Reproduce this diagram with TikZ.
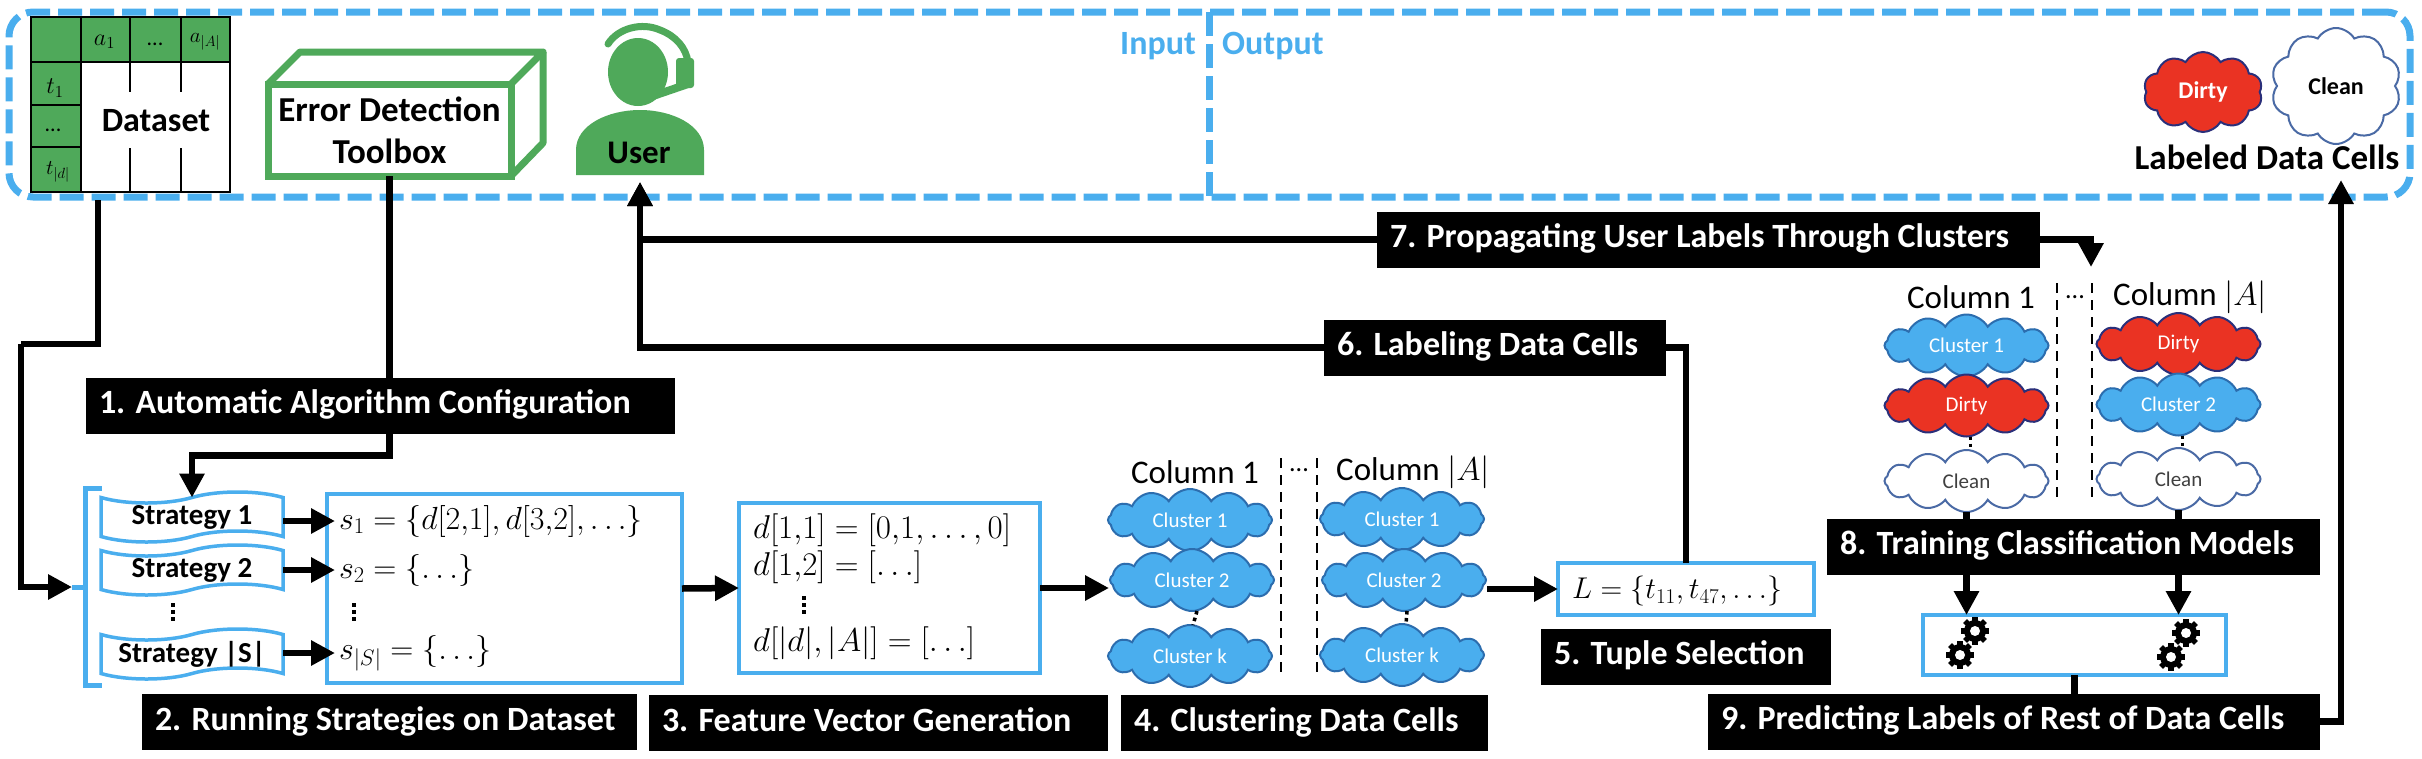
\documentclass[tikz,border=0pt]{standalone}
\usepackage{fix-cm}
\usepackage[no-math]{fontspec}
\setmainfont{Carlito}
\usetikzlibrary{arrows.meta,shapes.symbols}
\definecolor{ioblue}{HTML}{4AAEEE}
\definecolor{tblgreen}{HTML}{4FA95A}
\definecolor{dirtyred}{HTML}{EA3323}
\definecolor{puffblue}{HTML}{2C6DAE}
\definecolor{puffnavy}{HTML}{2A2F7A}
\definecolor{puffgrey}{HTML}{4A6AA5}
\newcommand{\fsz}[1]{\fontsize{#1}{#1}\selectfont}
\tikzset{
   lbl/.style={fill=black, text=white, font=\fsz{34}\bfseries, inner ysep=0pt, inner xsep=13pt, outer sep=0pt,
      text width=#1pt-26pt, align=flush left, minimum height=56pt, text height=23pt, text depth=7pt},
   flow/.style={line width=6.5pt, draw=black},
   tip/.style={-{Triangle[length=24pt,width=24pt]}},
   bluebox/.style={draw=ioblue, line width=4pt, fill=white, outer sep=0pt, inner sep=0pt},
   strategy/.style={tape, tape bend top=in and out, tape bend bottom=in and out, tape bend height=11pt, draw=ioblue,
      line width=3.5pt, fill=white, outer sep=0pt, inner sep=0pt, minimum width=182pt, minimum height=50pt, font=\fsz{29}\bfseries},
   mtext/.style={anchor=west, inner sep=0pt, font=\fsz{32}},
   puff/.style={cloud, cloud puffs=12, cloud puff arc=120, cloud ignores aspect, inner sep=0pt, outer sep=0pt, line width=2pt,
      minimum width=164pt, minimum height=62pt, font=\fsz{21}},
   bluepuff/.style={puff, draw=puffblue, fill=ioblue, text=white},
   redpuff/.style={puff, draw=puffnavy, fill=dirtyred, text=white},
   whitepuff/.style={puff, draw=puffgrey, fill=white, text=black!75},
   coltext/.style={font=\fsz{33}, text=black, inner sep=0pt},
   sepdash/.style={line width=2pt, dash pattern=on 10pt off 7pt},
   dotline/.style={line width=3.5pt, dash pattern=on 3.5pt off 3.5pt},
   gearicon/.pic={
      \foreach \a in {0,45,...,135} {
         \fill[black, rotate=\a] (-2.7pt,-14pt) rectangle (2.7pt,14pt);
      }
      \fill[black] (0,0) circle(11pt);
      \fill[white] (0,0) circle(5pt);
   }
}
\begin{document}
\begin{tikzpicture}[x=1pt, y=-1pt]
   \useasboundingbox (0,0) rectangle (2422,758);
   \fill[white] (0,0) rectangle (2422,758);
   \node[draw=ioblue, line width=7pt, dash pattern=on 24pt off 8pt, rounded corners=24pt, outer sep=0pt, minimum width=2401pt, minimum height=185pt] (iobox) at (1209.5,104.5) {};
   \draw[draw=ioblue, line width=7pt, dash pattern=on 24pt off 8pt] (iobox.north) -- (iobox.south);
   \node[anchor=east, inner sep=0pt, text=ioblue, font=\fsz{34}\bfseries] (inlbl) at (1196,46) {Input};
   \node[anchor=west, inner sep=0pt, text=ioblue, font=\fsz{34}\bfseries] (outlbl) at (1222,46) {Output};
   \fill[tblgreen] (31,17) rectangle (230,62);
   \fill[tblgreen] (31,62) rectangle (81,192);
   \draw[line width=1.5pt] (31,17) rectangle (230,192);
   \draw[line width=1.5pt] (31,62) -- (230,62);
   \foreach \y in {105,147} {
      \draw[line width=1.5pt] (31,\y) -- (81,\y);
   }
   \draw[line width=1.5pt] (81,17) -- (81,192);
   \foreach \x in {130,181} {
      \draw[line width=1.5pt] (\x,17) -- (\x,92);
      \draw[line width=1.5pt] (\x,148) -- (\x,192);
   }
   \node[font=\fsz{24}, inner sep=0pt] (a1) at (104.5,42) {$a_1$};
   \node[font=\fsz{22}, inner sep=0pt] (a2) at (155,44) {...};
   \node[font=\fsz{21}, inner sep=0pt] (a3) at (205,42) {$a_{|A|}$};
   \node[font=\fsz{24}, inner sep=0pt] (t1) at (55,88) {$t_1$};
   \node[font=\fsz{22}, inner sep=0pt] (t2) at (53,130) {...};
   \node[font=\fsz{21}, inner sep=0pt] (t3) at (58,172) {$t_{|d|}$};
   \node[font=\fsz{34}\bfseries, inner sep=0pt] (dataset) at (156,121) {Dataset};
   \node[draw=tblgreen, line width=7pt, outer sep=0pt, minimum width=243pt, minimum height=92pt, align=flush center, inner sep=0pt, font=\fsz{35}\bfseries] (toolbox) at (389.5,130) {Error Detection\\[7pt]Toolbox};
   \draw[draw=tblgreen, line width=7pt, line join=round] (toolbox.north west) -- ++(32,-32) -- ++(243,0) -- (toolbox.north east);
   \draw[draw=tblgreen, line width=7pt, line join=round] (toolbox.north east) ++(32,-32) -- ++(0,91) -- (toolbox.south east);
   \fill[tblgreen] (576,175) -- (576,150) .. controls (576,125) and (608,110) .. (640,110) .. controls (672,110) and (704,125) .. (704,150) -- (704,175) -- cycle;
   \fill[tblgreen] (638,72) ellipse (30pt and 34pt);
   \draw[tblgreen, line width=7pt, line cap=round] (608,44) .. controls (618,28) and (642,22) .. (660,30) .. controls (676,36) and (686,48) .. (688,62);
   \fill[tblgreen, rounded corners=3pt] (676,58) rectangle (694,88);
   \draw[tblgreen, line width=8pt, line cap=round] (688,84) -- (653,96);
   \node[font=\fsz{33}\bfseries, inner sep=0pt] (user) at (639,153) {User};
   \node[redpuff, minimum width=119pt, minimum height=80pt, cloud puffs=10, font=\fsz{24}\bfseries] (odirty) at (2203,92) {Dirty};
   \node[whitepuff, minimum width=130pt, minimum height=116pt, cloud puffs=10, text=black, font=\fsz{24}\bfseries] (oclean) at (2336,86) {Clean};
   \node[font=\fsz{35}\bfseries, inner sep=0pt] (labeled) at (2267,157) {Labeled Data Cells};
   \node[lbl=589] (l1) at (380.5,405.5) {1. Automatic Algorithm Configuration};
   \node[lbl=495] (l2) at (389.5,722) {2. Running Strategies on Dataset};
   \node[lbl=459] (l3) at (878.5,723) {3. Feature Vector Generation};
   \node[lbl=367] (l4) at (1304.5,723) {4. Clustering Data Cells};
   \node[lbl=290] (l5) at (1686,656.5) {5. Tuple Selection};
   \node[lbl=342] (l6) at (1495,347.5) {6. Labeling Data Cells};
   \node[lbl=663] (l7) at (1708.5,239.5) {7. Propagating User Labels Through Clusters};
   \node[lbl=493] (l8) at (2073.5,546.5) {8. Training Classification Models};
   \node[lbl=612] (l9) at (2014,721.5) {9. Predicting Labels of Rest of Data Cells};
   \node[strategy] (st1) at (192,517) {Strategy 1};
   \node[strategy] (st2) at (192,570) {Strategy 2};
   \node[strategy] (st3) at (192,654) {Strategy |S|};
   \draw[draw=ioblue, line width=5pt] (102,488) -- (85,488) -- (85,685) -- (102,685);
   \coordinate (brk) at (72,587);
   \draw[draw=ioblue, line width=5pt] (brk) -- (85,587);
   \node[bluebox, minimum width=355pt, minimum height=189pt] (sbox) at (504.5,588.5) {};
   \node[mtext, outer xsep=4pt] (s1) at (335,521) {$s_1=\{d[2{,}1],d[3{,}2],\ldots\}$};
   \node[mtext, outer xsep=4pt] (s2) at (335,570) {$s_2=\{\ldots\}$};
   \node[mtext, outer xsep=4pt] (s3) at (335,653) {$s_{|S|}=\{\ldots\}$};
   \node[bluebox, minimum width=301pt, minimum height=170pt] (fbox) at (889.5,588) {};
   \node[mtext, font=\fsz{33}] (f1) at (753,530) {$d[1{,}1]=[0{,}1,\ldots,0]$};
   \node[mtext, font=\fsz{33}] (f2) at (753,567) {$d[1{,}2]=[\ldots]$};
   \node[mtext, font=\fsz{33}] (f3) at (753,643) {$d[|d|,|A|]=[\ldots]$};
   \foreach \x/\y in {173/612, 354/612, 804/605} {
      \draw[dotline] (\x,\y-9) -- (\x,\y+9);
   }
   \node[coltext] (col1) at (1195,472) {Column 1};
   \node[coltext] (col2) at (1413,472) {Column $|A|$};
   \node[bluepuff] (ca1) at (1190,520) {Cluster 1};
   \node[bluepuff] (ca2) at (1192,580) {Cluster 2};
   \node[bluepuff] (ca3) at (1190,656) {Cluster k};
   \node[bluepuff] (cb1) at (1402,519) {Cluster 1};
   \node[bluepuff] (cb2) at (1404,580) {Cluster 2};
   \node[bluepuff] (cb3) at (1402,655) {Cluster k};
   \node[font=\fsz{26}, inner sep=0pt] (cdots) at (1299,470) {...};
   \node[bluebox, minimum width=256pt, minimum height=52pt] (lbox) at (1686,589) {};
   \node[mtext, font=\fsz{30}] (lset) at (1572,591) {$L=\{t_{11},t_{47},\ldots\}$};
   \node[coltext] (col3) at (1971,297) {Column 1};
   \node[coltext] (col4) at (2190,297) {Column $|A|$};
   \node[font=\fsz{26}, inner sep=0pt] (ddots) at (2075,297) {...};
   \node[bluepuff] (da1) at (1966.5,345.5) {Cluster 1};
   \node[redpuff] (da2) at (1966.5,405.5) {Dirty};
   \node[whitepuff] (da3) at (1966.5,481) {Clean};
   \node[redpuff] (db1) at (2178.5,344) {Dirty};
   \node[bluepuff] (db2) at (2178.5,404.5) {Cluster 2};
   \node[whitepuff] (db3) at (2178.5,479) {Clean};
   \foreach \n/\x/\t/\b in {a/1281/458/678, b/1317/458/678, c/2057/283/503, d/2092/283/503} {
      \coordinate (sep\n t) at (\x,\t);
      \coordinate (sep\n b) at (\x,\b);
      \draw[sepdash] (sep\n t) -- (sep\n b);
   }
   \draw[dotline] ([xshift=5pt]ca2.south) -- ([xshift=3pt]ca3.north);
   \draw[dotline] ([xshift=3pt]cb2.south) -- ([xshift=4pt]cb3.north);
   \draw[dotline] ([xshift=4pt]da2.south) -- ([xshift=4pt]da3.north);
   \draw[dotline] ([xshift=4pt]db2.south) -- ([xshift=4pt]db3.north);
   \node[bluebox, minimum width=303pt, minimum height=60pt] (gbox) at (2074.5,645) {};
   \pic at (1975,631) {gearicon};
   \pic at (1960,655) {gearicon};
   \pic at (2186,633) {gearicon};
   \pic at (2171,657) {gearicon};
   \coordinate (dsout) at (98,200);
   \coordinate (dsbend) at (21,344);
   \coordinate (userin) at (640,182);
   \coordinate (clin) at (1109,588);
   \coordinate (clout) at (1487,589);
   \coordinate (colin) at (2091,267);
   \coordinate (outtip) at (2341,180);
   \draw[flow] (dsout) |- (dsbend);
   \draw[flow, tip] (dsbend) |- (brk);
   \draw[flow] (toolbox.south) -- (toolbox.south |- l1.north);
   \draw[flow, tip] (toolbox.south |- l1.south) -- ++(0,22) -| (st1.north);
   \foreach \i in {1,2,3} {
      \draw[flow, tip] (st\i.east |- s\i.west) -- (s\i.west);
   }
   \draw[flow, tip] (sbox.east) -- (fbox.west);
   \draw[flow, tip] (fbox.east) -- (clin);
   \draw[flow, tip] (clout) -- (lbox.west);
   \draw[flow] (lbox.north) |- (l6.east);
   \draw[flow, tip] (l6.west) -| (userin);
   \draw[flow, tip] (l7.west) -| (userin);
   \draw[flow, tip] (l7.east) -| (colin);
   \draw[flow] (da3.south) -- (da3.south |- l8.north);
   \draw[flow] (db3.south) -- (db3.south |- l8.north);
   \draw[flow, tip] (da3.south |- l8.south) -- (da3.south |- gbox.north);
   \draw[flow, tip] (db3.south |- l8.south) -- (db3.south |- gbox.north);
   \draw[flow] (gbox.south) -- (gbox.south |- l9.north);
   \draw[flow, tip] (l9.east) -| (outtip);
\end{tikzpicture}
\end{document}
